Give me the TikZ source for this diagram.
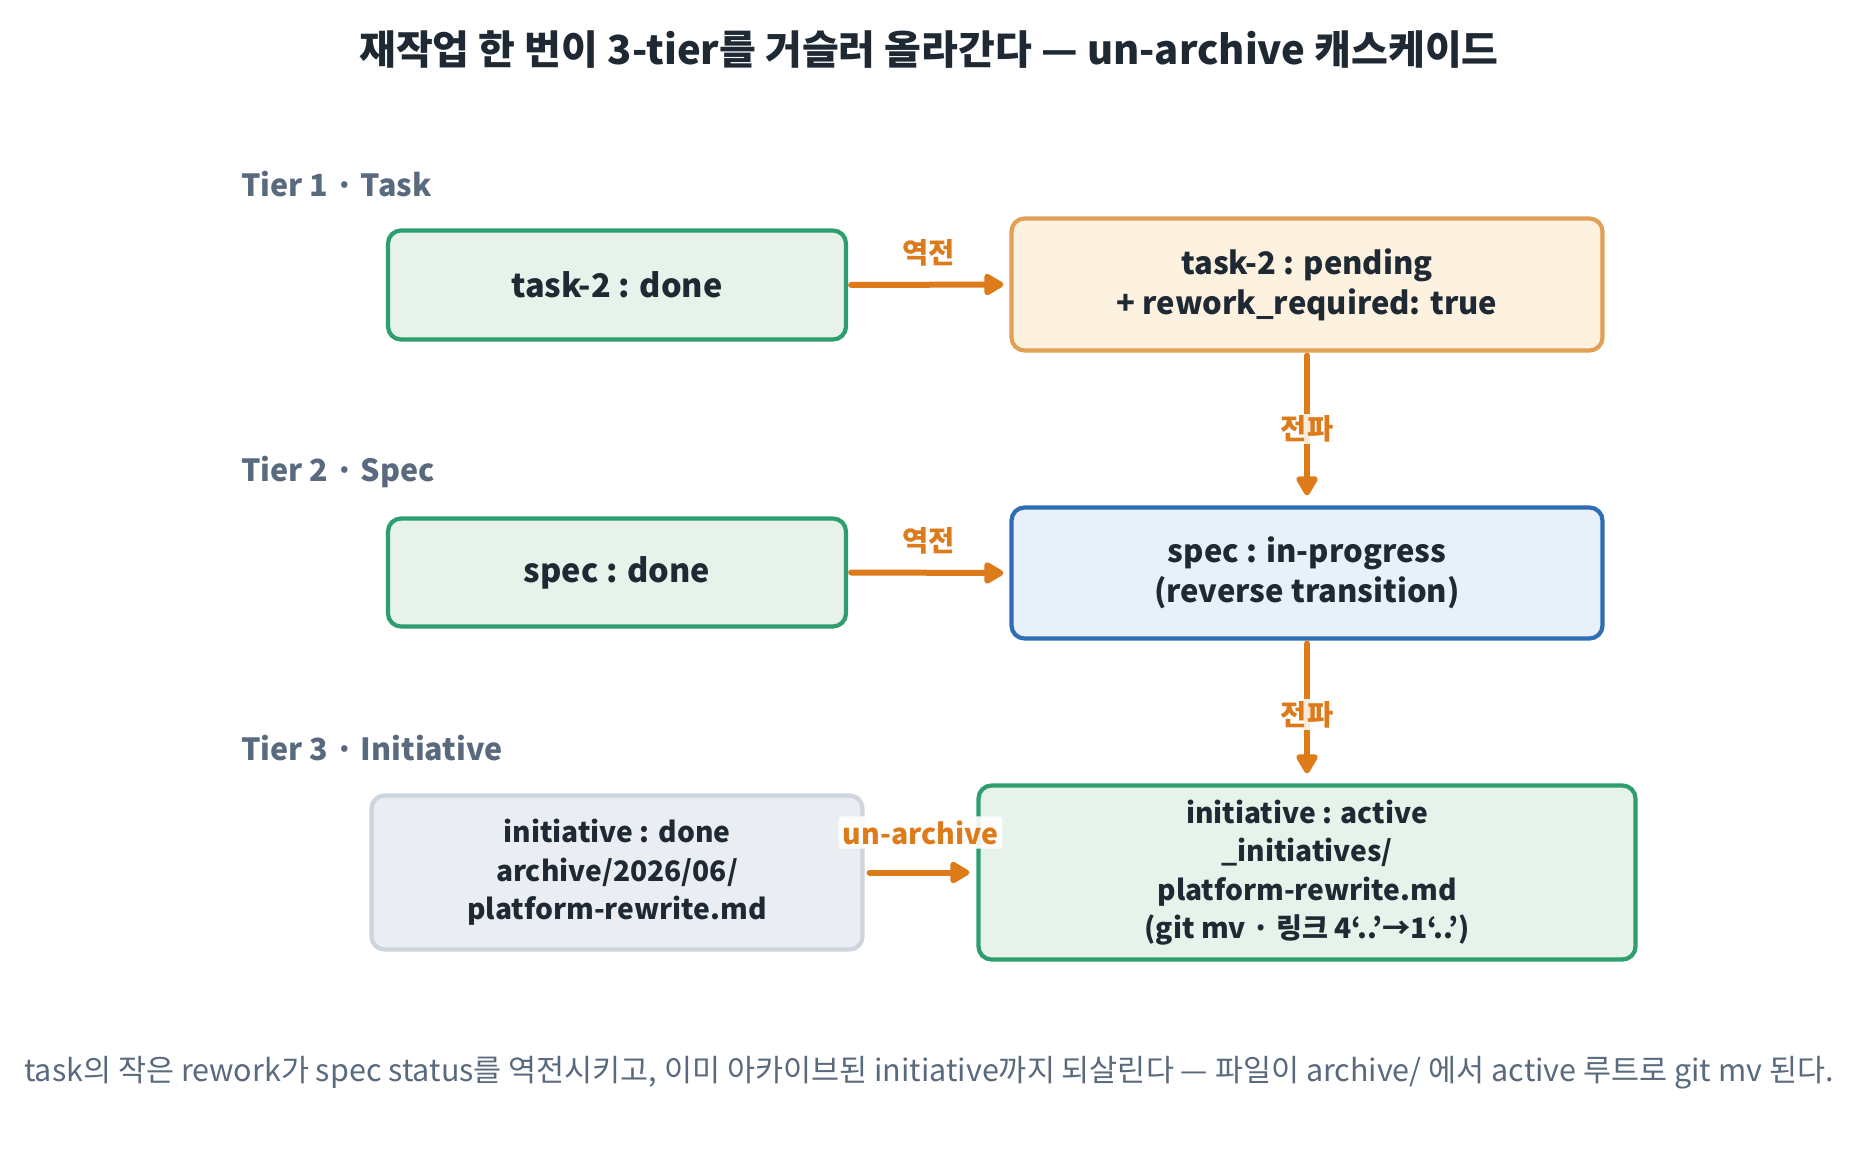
\documentclass[tikz,border=0pt]{standalone}
\usepackage{fontspec}
\setmainfont{Noto Sans CJK KR}
\usetikzlibrary{arrows.meta}
\definecolor{ink}{HTML}{1F2933}
\definecolor{slate}{HTML}{5A6A7E}
\definecolor{grnB}{HTML}{2E9E6E}
\definecolor{grnF}{HTML}{E6F2EA}
\definecolor{orgB}{HTML}{E0A055}
\definecolor{orgF}{HTML}{FDF1E0}
\definecolor{bluB}{HTML}{2F6DB5}
\definecolor{bluF}{HTML}{E8F0F9}
\definecolor{gryB}{HTML}{CDD5DF}
\definecolor{gryF}{HTML}{EAEEF2}
\definecolor{arr}{HTML}{DD7A1A}
\begin{document}
\begin{tikzpicture}[x=1pt,y=-1pt,
  box/.style={draw, line width=4.2pt, rounded corners=13pt, align=center,
    font=\fontsize{31}{40}\selectfont\bfseries, text=ink, inner sep=0pt},
  greenbox/.style={box, draw=grnB, fill=grnF},
  orangebox/.style={box, draw=orgB, fill=orgF},
  bluebox/.style={box, draw=bluB, fill=bluF},
  graybox/.style={box, draw=gryB, fill=gryF},
  flow/.style={draw=arr, line width=6pt, line cap=round,
    -{Triangle[length=22pt,width=24pt,round]}},
  elabel/.style={text=arr, font=\fontsize{28.5}{32}\selectfont\bfseries, inner sep=2pt},
  tier/.style={text=slate, font=\fontsize{30.5}{36}\selectfont\bfseries, anchor=west, inner sep=0pt},
]
\path[use as bounding box, fill=white] (0,0) rectangle (1859,1148);

\node[text=ink, font=\fontsize{40}{48}\selectfont\bfseries] (title) at (929,50)
  {재작업 한 번이 3-tier를 거슬러 올라간다 — un-archive 캐스케이드};

\node[tier] (t1) at (241,184) {Tier 1 · Task};
\node[tier] (t2) at (241,472) {Tier 2 · Spec};
\node[tier] (t3) at (241,748) {Tier 3 · Initiative};

\node[greenbox, minimum width=458pt, minimum height=109pt, font=\fontsize{32.5}{40}\selectfont\bfseries] (A) at (617,285) {task-2 : done};
\node[orangebox, minimum width=591pt, minimum height=132pt] (B) at (1307,284.5) {task-2 : pending\\+ rework\_required: true};
\node[greenbox, minimum width=458pt, minimum height=108pt, font=\fontsize{32.5}{40}\selectfont\bfseries] (C) at (617,572.5) {spec : done};
\node[bluebox, minimum width=591pt, minimum height=131pt] (D) at (1307,573) {spec : in-progress\\(reverse transition)};
\node[graybox, minimum width=491pt, minimum height=154pt, font=\fontsize{28.2}{38.5}\selectfont\bfseries] (E) at (617,872.5) {initiative : done\\archive/2026/06/\\platform-rewrite.md};
\node[greenbox, minimum width=657pt, minimum height=174pt, font=\fontsize{28.2}{38.3}\selectfont\bfseries] (F) at (1307,872.5) {initiative : active\\\_initiatives/\\platform-rewrite.md\\(git mv · 링크 4‘..’→1‘..’)};

\draw[flow, shorten <=3pt, shorten >=6pt] (A.east) -- node[elabel, above=14pt] (l1) {역전} (B.west);
\draw[flow, shorten <=3pt, shorten >=6pt] (C.east) -- node[elabel, above=14pt] (l2) {역전} (D.west);
\draw[flow, shorten <=3pt, shorten >=10pt] (B.south) -- node[elabel, fill=white, fill opacity=0.85, text opacity=1] (l3) {전파} (D.north);
\draw[flow, shorten <=3pt, shorten >=10pt] (D.south) -- node[elabel, fill=white, fill opacity=0.85, text opacity=1, pos=0.52] (l4) {전파} (F.north);
\draw[flow, shorten <=5pt, shorten >=7pt] (E.east) -- node[elabel, fill=white, fill opacity=0.9, text opacity=1, rounded corners=3pt, inner sep=4pt, above=21pt] (l5) {un-archive} (F.west);

\node[text=slate, font=\fontsize{30.5}{36}\selectfont] (foot) at (929,1073)
  {task의 작은 rework가 spec status를 역전시키고, 이미 아카이브된 initiative까지 되살린다 — 파일이 archive/ 에서 active 루트로 git mv 된다.};
\end{tikzpicture}
\end{document}
